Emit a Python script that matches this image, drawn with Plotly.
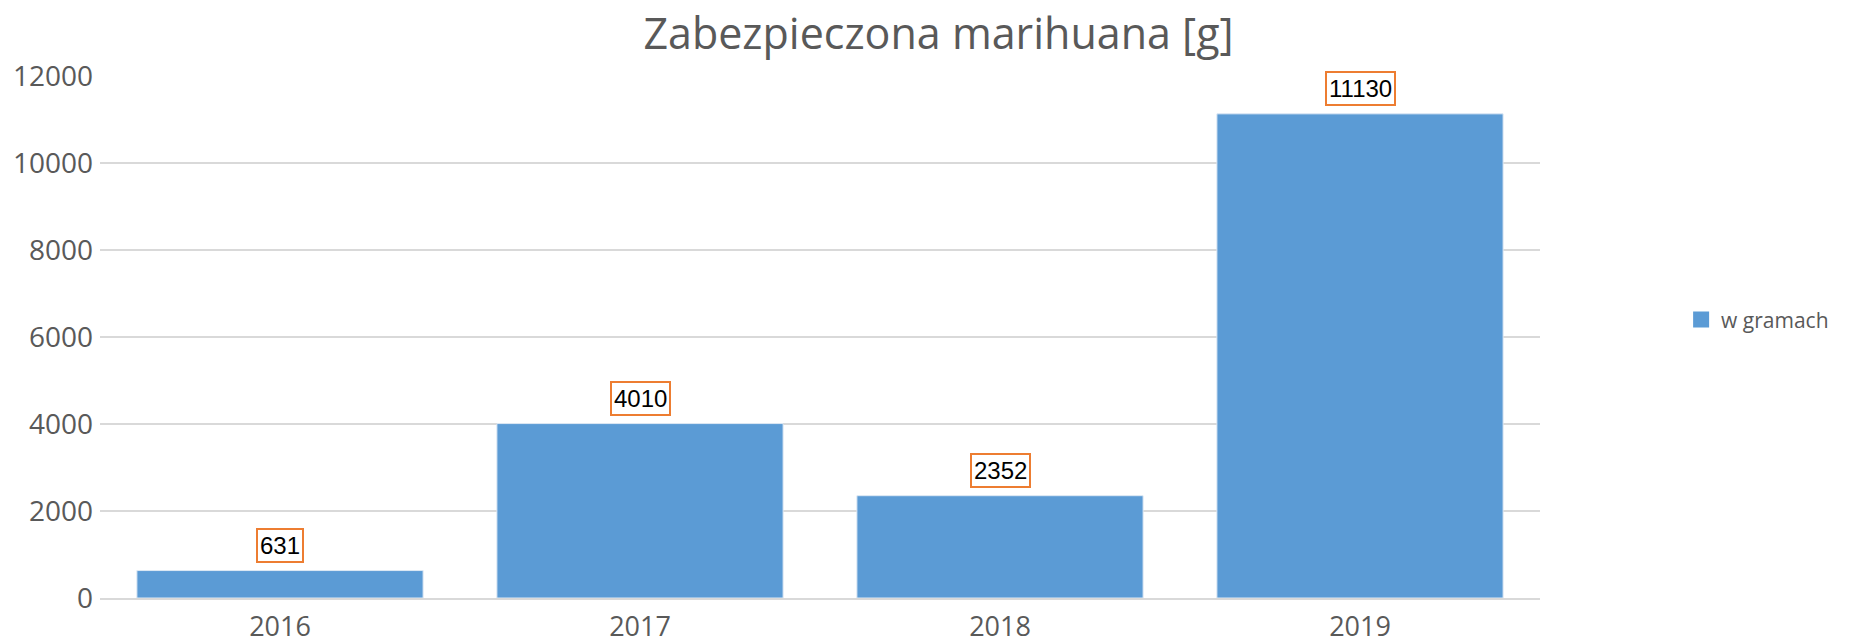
import plotly.graph_objects as go

years = ["2016", "2017", "2018", "2019"]
values = [631, 4010, 2352, 11130]
series_name = "w gramach"
title_text = "Zabezpieczona marihuana [g]"
y_ticks = [0, 2000, 4000, 6000, 8000, 10000, 12000]

BAR = "#5B9BD5"
GRID = "#D9D9D9"
TXT = "#595959"
ORANGE = "#ED7D31"

W, H = 1861, 633

fig = go.Figure()
fig.add_trace(go.Bar(
    x=years, y=values, name=series_name,
    marker=dict(color=BAR, line=dict(color="#DDE8F4", width=1)),
    showlegend=False, cliponaxis=False,
))
# legend entry (larger square symbol)
fig.add_trace(go.Scatter(
    x=[years[0]], y=[None], mode="markers", name=series_name,
    marker=dict(symbol="square", color=BAR, size=16),
    showlegend=True,
))

for i, v in enumerate(values):
    fig.add_annotation(
        x=i, y=v, xref="x", yref="y", text=str(v), showarrow=False,
        yanchor="bottom", yshift=8,
        font=dict(family="Liberation Sans, Arial", size=24, color="black"),
        bgcolor="white", bordercolor=ORANGE, borderwidth=2, borderpad=2,
    )

fig.update_layout(
    width=W, height=H,
    paper_bgcolor="white", plot_bgcolor="white",
    margin=dict(l=92, r=329, t=68, b=43, autoexpand=False),
    bargap=0.205,
    font=dict(family="Open Sans", color=TXT),
    title=dict(text=title_text, x=0.5, xanchor="center",
               y=1 - 26 / H, yanchor="middle", yref="container",
               font=dict(family="Open Sans", size=43, color=TXT)),
    legend=dict(x=1.098, y=0.533, xanchor="left", yanchor="middle",
                font=dict(family="Open Sans", size=21, color=TXT),
                bgcolor="rgba(0,0,0,0)"),
)
fig.update_xaxes(
    type="category", categoryorder="array", categoryarray=years,
    range=[-0.5, len(years) - 0.5], autorange=False, automargin=False,
    showgrid=False, showline=True, linecolor=GRID, linewidth=1.5,
    tickfont=dict(family="Open Sans", size=27, color=TXT),
    ticks="", ticklabelstandoff=4,
)
fig.update_yaxes(
    range=[0, 12000], autorange=False, automargin=False,
    tickvals=y_ticks, tickformat="d",
    showgrid=True, gridcolor=GRID, gridwidth=1.5,
    zeroline=False, showline=False,
    tickfont=dict(family="Open Sans", size=28, color=TXT),
    ticks="", ticklabelstandoff=6,
)

fig.write_html("out.html")
